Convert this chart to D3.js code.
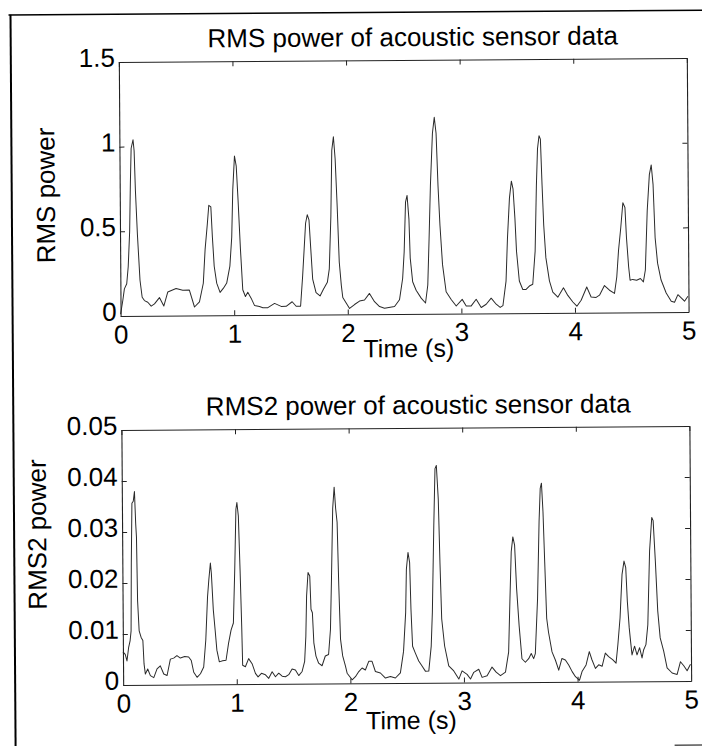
<!DOCTYPE html>
<html>
<head>
<meta charset="utf-8">
<script src="https://cdn.jsdelivr.net/npm/d3@7"></script>
<style>
  body { margin: 0; background: #fff; }
  svg { display: block; }
  text { font-family: "Liberation Sans", Arial, Helvetica, sans-serif; fill: #000; }
</style>
</head>
<body>
<div id="chart"></div>
<script>
// values
var xTicks = [0, 1, 2, 3, 4, 5];

var rmsTicks = [0, 0.5, 1, 1.5];
var rmsTickLabels = ["0", "0.5", "1", "1.5"];

var rms2Ticks = [0, 0.01, 0.02, 0.03, 0.04, 0.05];
var rms2TickLabels = ["0", "0.01", "0.02", "0.03", "0.04", "0.05"];

var rmsTime = [0, 0.02, 0.035, 0.056, 0.07, 0.085, 0.094, 0.103, 0.12, 0.129, 0.138, 0.153, 0.173, 0.191, 0.211, 0.24, 0.27, 0.299, 0.343, 0.381,
    0.417, 0.49, 0.549, 0.607, 0.651, 0.695, 0.73, 0.748, 0.769, 0.783, 0.801, 0.813, 0.827, 0.848, 0.877, 0.907, 0.936, 0.965, 0.983, 0.995,
    1.012, 1.027, 1.041, 1.059, 1.077, 1.1, 1.121, 1.15, 1.179, 1.223, 1.253, 1.297, 1.356, 1.414, 1.458, 1.511, 1.546, 1.585, 1.605, 1.62,
    1.634, 1.649, 1.664, 1.678, 1.693, 1.722, 1.757, 1.787, 1.822, 1.84, 1.857, 1.869, 1.884, 1.898, 1.913, 1.928, 1.945, 1.957, 2.016, 2.06,
    2.104, 2.148, 2.192, 2.236, 2.28, 2.324, 2.412, 2.456, 2.485, 2.5, 2.515, 2.529, 2.544, 2.553, 2.573, 2.603, 2.647, 2.685, 2.706, 2.72,
    2.735, 2.756, 2.773, 2.788, 2.802, 2.817, 2.837, 2.867, 2.911, 2.955, 3.008, 3.043, 3.087, 3.131, 3.175, 3.219, 3.263, 3.307, 3.342, 3.366,
    3.395, 3.41, 3.43, 3.448, 3.462, 3.477, 3.489, 3.512, 3.542, 3.571, 3.6, 3.63, 3.653, 3.668, 3.68, 3.694, 3.706, 3.718, 3.73, 3.747,
    3.777, 3.806, 3.85, 3.9, 3.938, 3.982, 4.017, 4.055, 4.105, 4.143, 4.187, 4.217, 4.261, 4.305, 4.349, 4.37, 4.387, 4.408, 4.428, 4.446,
    4.458, 4.475, 4.487, 4.51, 4.545, 4.578, 4.604, 4.622, 4.642, 4.663, 4.68, 4.695, 4.71, 4.73, 4.76, 4.804, 4.848, 4.877, 4.907, 4.936,
    4.965, 4.995];

var rmsPower = [0.01, 0.09, 0.16, 0.19, 0.29, 0.5, 0.78, 0.99, 1.04, 0.975, 0.74, 0.48, 0.21, 0.11, 0.09, 0.08, 0.057, 0.07, 0.107, 0.057,
    0.14, 0.16, 0.15, 0.15, 0.05, 0.08, 0.19, 0.39, 0.54, 0.65, 0.64, 0.46, 0.29, 0.19, 0.135, 0.16, 0.19, 0.29, 0.46, 0.74,
    0.94, 0.88, 0.68, 0.39, 0.15, 0.11, 0.135, 0.1, 0.057, 0.05, 0.043, 0.043, 0.068, 0.05, 0.05, 0.077, 0.05, 0.05, 0.23, 0.39,
    0.54, 0.59, 0.56, 0.39, 0.21, 0.13, 0.11, 0.15, 0.19, 0.27, 0.58, 0.97, 1.05, 0.92, 0.64, 0.31, 0.17, 0.1, 0.035, 0.058,
    0.078, 0.084, 0.123, 0.074, 0.045, 0.035, 0.045, 0.084, 0.21, 0.366, 0.66, 0.7, 0.56, 0.33, 0.19, 0.14, 0.093, 0.064, 0.17, 0.44,
    0.755, 1.066, 1.16, 1.066, 0.755, 0.52, 0.29, 0.13, 0.084, 0.045, 0.084, 0.045, 0.045, 0.084, 0.035, 0.054, 0.09, 0.054, 0.035, 0.045,
    0.19, 0.44, 0.68, 0.78, 0.735, 0.56, 0.366, 0.19, 0.14, 0.14, 0.16, 0.17, 0.366, 0.755, 0.97, 1.047, 1.027, 0.755, 0.52, 0.327,
    0.19, 0.123, 0.093, 0.148, 0.103, 0.064, 0.039, 0.074, 0.152, 0.093, 0.09, 0.103, 0.16, 0.132, 0.113, 0.21, 0.366, 0.5, 0.648, 0.62,
    0.44, 0.27, 0.19, 0.195, 0.19, 0.2, 0.18, 0.25, 0.6, 0.813, 0.87, 0.755, 0.44, 0.29, 0.19, 0.113, 0.064, 0.058, 0.103, 0.084,
    0.064, 0.093];

var rms2Time = [0, 0.02, 0.035, 0.05, 0.064, 0.073, 0.079, 0.088, 0.1, 0.111, 0.12, 0.126, 0.132, 0.144, 0.161, 0.176, 0.185, 0.196, 0.217, 0.24,
    0.27, 0.299, 0.328, 0.358, 0.387, 0.417, 0.446, 0.475, 0.505, 0.543, 0.578, 0.601, 0.622, 0.651, 0.681, 0.71, 0.73, 0.748, 0.76, 0.775,
    0.783, 0.798, 0.813, 0.827, 0.848, 0.877, 0.907, 0.93, 0.953, 0.974, 0.989, 1.003, 1.012, 1.024, 1.036, 1.047, 1.053, 1.077, 1.106, 1.136,
    1.165, 1.188, 1.218, 1.253, 1.282, 1.312, 1.341, 1.37, 1.4, 1.429, 1.458, 1.488, 1.517, 1.546, 1.576, 1.599, 1.611, 1.62, 1.634, 1.649,
    1.658, 1.67, 1.681, 1.699, 1.722, 1.752, 1.781, 1.81, 1.828, 1.84, 1.855, 1.869, 1.881, 1.893, 1.904, 1.916, 1.934, 1.958, 1.972, 2.016,
    2.045, 2.075, 2.104, 2.133, 2.163, 2.192, 2.221, 2.265, 2.309, 2.353, 2.397, 2.441, 2.47, 2.491, 2.5, 2.515, 2.529, 2.538, 2.55, 2.573,
    2.603, 2.632, 2.661, 2.691, 2.714, 2.726, 2.744, 2.758, 2.77, 2.785, 2.796, 2.808, 2.832, 2.867, 2.911, 2.955, 2.984, 3.028, 3.058, 3.087,
    3.131, 3.16, 3.204, 3.248, 3.284, 3.322, 3.366, 3.395, 3.41, 3.424, 3.439, 3.454, 3.469, 3.489, 3.512, 3.542, 3.571, 3.594, 3.615, 3.63,
    3.653, 3.671, 3.683, 3.694, 3.706, 3.718, 3.732, 3.747, 3.777, 3.806, 3.835, 3.864, 3.894, 3.923, 3.953, 3.982, 4.017, 4.04, 4.076, 4.105,
    4.128, 4.158, 4.187, 4.217, 4.246, 4.275, 4.31, 4.34, 4.357, 4.378, 4.398, 4.416, 4.431, 4.443, 4.458, 4.469, 4.481, 4.504, 4.525, 4.548,
    4.569, 4.584, 4.604, 4.622, 4.642, 4.663, 4.675, 4.692, 4.71, 4.73, 4.76, 4.789, 4.833, 4.877, 4.907, 4.936, 4.965, 4.995];

var rms2Power = [0.0065, 0.006, 0.0047, 0.0073, 0.0087, 0.0106, 0.0238, 0.0356, 0.036, 0.0379, 0.0316, 0.029, 0.0165, 0.0106, 0.0093, 0.0087, 0.0041, 0.0021, 0.0031, 0.0018,
    0.0014, 0.0031, 0.0037, 0.0021, 0.0018, 0.005, 0.0052, 0.0057, 0.0052, 0.0055, 0.0054, 0.0047, 0.0024, 0.0014, 0.0021, 0.0034, 0.0087, 0.0172, 0.0204, 0.0238,
    0.0218, 0.0146, 0.0106, 0.0067, 0.0044, 0.0046, 0.0047, 0.008, 0.0106, 0.012, 0.0224, 0.0343, 0.0356, 0.033, 0.0224, 0.0113, 0.0037, 0.0034, 0.005, 0.004,
    0.0021, 0.0014, 0.0021, 0.0018, 0.0011, 0.0024, 0.0014, 0.0021, 0.0015, 0.0014, 0.0018, 0.0029, 0.0027, 0.0016, 0.0024, 0.0044, 0.0093, 0.0172, 0.0218, 0.0211,
    0.0146, 0.0139, 0.008, 0.0054, 0.004, 0.0035, 0.0054, 0.0057, 0.0106, 0.0204, 0.0343, 0.0385, 0.0343, 0.0316, 0.0191, 0.0087, 0.0054, 0.0034, 0.002, 0.0007,
    0.0013, 0.0023, 0.003, 0.0026, 0.0043, 0.0043, 0.0023, 0.002, 0.001, 0.0013, 0.001, 0.002, 0.0062, 0.0138, 0.0223, 0.0256, 0.0236, 0.0144, 0.0072, 0.0059,
    0.0043, 0.0033, 0.0023, 0.0023, 0.0072, 0.0138, 0.0308, 0.042, 0.0426, 0.036, 0.0236, 0.0125, 0.0072, 0.0033, 0.0023, 0.0007, 0.0023, 0.0016, 0.0007, 0.002,
    0.0026, 0.001, 0.0013, 0.003, 0.002, 0.0013, 0.002, 0.0059, 0.0164, 0.0256, 0.0285, 0.0269, 0.0184, 0.0111, 0.0046, 0.0039, 0.0046, 0.0056, 0.0046, 0.0056,
    0.0164, 0.0315, 0.038, 0.039, 0.0334, 0.0236, 0.0125, 0.0098, 0.0059, 0.0043, 0.0023, 0.0046, 0.0043, 0.0033, 0.002, 0.001, 0.0003, 0.002, 0.0033, 0.0059,
    0.0043, 0.0026, 0.0033, 0.003, 0.0056, 0.0049, 0.0043, 0.0036, 0.0072, 0.0125, 0.021, 0.0236, 0.0223, 0.0157, 0.0105, 0.0079, 0.0052, 0.0069, 0.0052, 0.0066,
    0.0046, 0.0062, 0.0072, 0.0111, 0.0256, 0.0321, 0.0315, 0.0236, 0.0138, 0.0085, 0.0059, 0.0026, 0.0016, 0.0013, 0.0038, 0.003, 0.002, 0.0033];

var width = 702,
    height = 746;

var svg = d3.select("#chart")
    .append("svg")
    .attr("width", width)
    .attr("height", height);

// the scan is turned a little, so the whole page is too
var page = svg.append("g")
    .attr("transform", "rotate(-0.4, 405, 372)");

// frame of the scanned page
page.append("line")
    .attr("x1", 11).attr("x2", 710)
    .attr("y1", 12.3).attr("y2", 12.3)
    .style("stroke", "#000").style("stroke-width", 1.5);
page.append("line")
    .attr("x1", 13).attr("x2", 13)
    .attr("y1", 12).attr("y2", 760)
    .style("stroke", "#000").style("stroke-width", 2);
page.append("line")
    .attr("x1", 672).attr("x2", 710)
    .attr("y1", 747).attr("y2", 747)
    .style("stroke", "#555").style("stroke-width", 1.5);

var left = 121,
    right = 689;

function drawPanel(opt) {
    var x = d3.scaleLinear().domain([0, 5]).range([left, right]);
    var y = d3.scaleLinear().domain(opt.yDomain).range([opt.bottom, opt.top]);

    var g = page.append("g");

    var line = d3.line()
        .x(function (d) { return x(d[0]); })
        .y(function (d) { return y(d[1]); });

    var pts = opt.time.map(function (t, i) { return [t, opt.values[i]]; });

    g.append("path")
        .datum(pts)
        .attr("d", line)
        .style("fill", "none")
        .style("stroke", "#2a2a2a")
        .style("stroke-width", 1)
        .style("stroke-linejoin", "round");

    var bottomAxis = g.append("g")
        .attr("transform", "translate(0," + opt.bottom + ")")
        .call(d3.axisBottom(x).tickValues(xTicks).tickSize(-5).tickSizeOuter(0).tickPadding(9)
            .tickFormat(d3.format("d")));

    var topAxis = g.append("g")
        .attr("transform", "translate(0," + opt.top + ")")
        .call(d3.axisTop(x).tickValues(xTicks).tickSize(-5).tickSizeOuter(0).tickFormat(""));

    var leftAxis = g.append("g")
        .attr("transform", "translate(" + left + ",0)")
        .call(d3.axisLeft(y).tickValues(opt.ticks).tickSize(-5).tickSizeOuter(0).tickPadding(4)
            .tickFormat(function (d, i) { return opt.tickLabels[i]; }));

    var rightAxis = g.append("g")
        .attr("transform", "translate(" + right + ",0)")
        .call(d3.axisRight(y).tickValues(opt.ticks).tickSize(-5).tickSizeOuter(0).tickFormat(""));

    [bottomAxis, topAxis, leftAxis, rightAxis].forEach(function (a) {
        a.select(".domain").style("stroke", "#222").style("stroke-width", 1.1);
        a.selectAll(".tick line").style("stroke", "#222").style("stroke-width", 1);
        a.selectAll("text")
            .style("font-size", "26px")
            .style("font-family", "'Liberation Sans', Arial, Helvetica, sans-serif")
            .style("fill", "#000");
    });

    leftAxis.selectAll("text").attr("dy", "0.16em");
    // the end ticks of the bottom axis sit on the box corners
    bottomAxis.selectAll(".tick line").filter(function (d) { return d === 0 || d === 5; }).remove();

    g.append("text")
        .attr("x", opt.titleX)
        .attr("y", opt.top - 14)
        .attr("text-anchor", "middle")
        .style("font-size", "26px")
        .text(opt.title);

    g.append("text")
        .attr("x", 409)
        .attr("y", opt.bottom + opt.xLabelGap)
        .attr("text-anchor", "middle")
        .style("font-size", "25px")
        .text("Time (s)");

    g.append("text")
        .attr("transform", "translate(" + opt.yLabelX + "," + opt.yLabelY + ") rotate(-90)")
        .attr("text-anchor", "middle")
        .style("font-size", "26px")
        .text(opt.yLabel);
}

drawPanel({
    top: 60,
    bottom: 314,
    yDomain: [0, 1.5],
    ticks: rmsTicks,
    tickLabels: rmsTickLabels,
    time: rmsTime,
    values: rmsPower,
    title: "RMS power of acoustic sensor data",
    titleX: 415,
    yLabel: "RMS power",
    yLabelX: 56,
    yLabelY: 193,
    xLabelGap: 43
});

drawPanel({
    top: 428,
    bottom: 683,
    yDomain: [0, 0.05],
    ticks: rms2Ticks,
    tickLabels: rms2TickLabels,
    time: rms2Time,
    values: rms2Power,
    title: "RMS2 power of acoustic sensor data",
    titleX: 418,
    yLabel: "RMS2 power",
    yLabelX: 45,
    yLabelY: 532,
    xLabelGap: 46
});
</script>
</body>
</html>
